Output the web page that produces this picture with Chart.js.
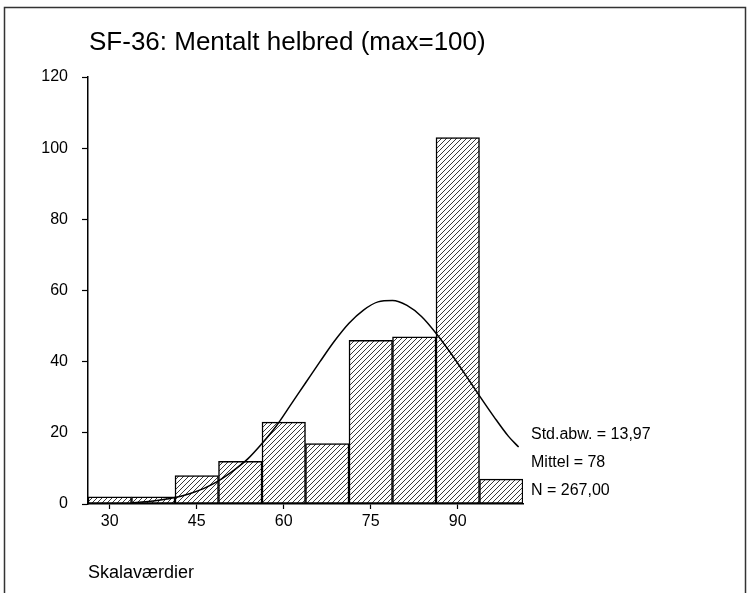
<!DOCTYPE html>
<html lang="da">
<head>
    <meta charset="UTF-8">
    <title>SF-36: Mentalt helbred</title>
    <script src="https://cdn.jsdelivr.net/npm/chart.js"></script>
    <style>
        body { margin: 0; background: #fff; }
        canvas { display: block; }
    </style>
</head>
<body>
    <canvas id="grafico" width="748" height="593"></canvas>
    <script>
        // histogram (bin width 7.5)
        const binCenters = [30, 37.5, 45, 52.5, 60, 67.5, 75, 82.5, 90, 97.5];
        const counts = [2, 2, 8, 12, 23, 17, 46, 47, 103, 7];

        // normal curve
        const curveX = [33.75, 36.25, 38.75, 41.25, 43.75, 46.25, 48.75, 51.25, 53.75, 56.25,
                        58.75, 61.25, 63.75, 66.25, 68.75, 71.25, 73.75, 76.25, 78.75, 81.25,
                        83.75, 86.25, 88.75, 91.25, 93.75, 96.25, 98.75, 100.5];
        const curveY = [0.3, 0.6, 1.1, 1.8, 2.9, 4.4, 6.5, 9.3, 12.6, 17,
                        22, 28, 34, 40, 45.8, 50.8, 54.5, 56.8, 57.2, 55.8,
                        52.7, 48, 42.5, 36.5, 30.4, 24.5, 19, 16];

        const xTicks = [30, 45, 60, 75, 90];
        const yTicks = [0, 20, 40, 60, 80, 100, 120];

        const titulo = 'SF-36: Mentalt helbred (max=100)';
        const ejeX = 'Skalaværdier';
        const estadisticas = ['Std.abw. = 13,97', 'Mittel = 78', 'N = 267,00'];

        const fuente = "'Liberation Sans', Arial, sans-serif";

        // hatch pattern for the bars
        function rayado() {
            const t = document.createElement('canvas');
            t.width = 5; t.height = 5;
            const c = t.getContext('2d');
            c.fillStyle = '#fff';
            c.fillRect(0, 0, 5, 5);
            c.strokeStyle = '#222';
            c.lineWidth = 0.9;
            c.beginPath();
            c.moveTo(0, 5); c.lineTo(5, 0);
            c.moveTo(-1, 1); c.lineTo(1, -1);
            c.moveTo(4, 6); c.lineTo(6, 4);
            c.stroke();
            return c.createPattern(t, 'repeat');
        }

        const extras = {
            id: 'extras',
            beforeDraw(chart) {
                const ctx = chart.ctx;
                ctx.save();
                ctx.fillStyle = '#fff';
                ctx.fillRect(0, 0, chart.width, chart.height);
                ctx.strokeStyle = '#333';
                ctx.lineWidth = 1.5;
                ctx.strokeRect(4.5, 7.5, 741, 640);
                ctx.restore();
            },
            afterDraw(chart) {
                const ctx = chart.ctx;
                const a = chart.chartArea;
                ctx.save();
                ctx.fillStyle = '#000';
                ctx.textBaseline = 'middle';
                ctx.textAlign = 'left';
                ctx.font = '26px ' + fuente;
                ctx.fillText(titulo, 89, 43);
                ctx.font = '16px ' + fuente;
                estadisticas.forEach((t, i) => {
                    ctx.fillText(t, a.right + 8, a.bottom - 69 + i * 28);
                });
                ctx.restore();
            }
        };

        const ctx = document.getElementById('grafico').getContext('2d');
        new Chart(ctx, {
            data: {
                datasets: [{
                    type: 'line',
                    data: curveX.map((x, i) => ({ x: x, y: curveY[i] })),
                    borderColor: '#000',
                    borderWidth: 1.5,
                    pointRadius: 0,
                    fill: false,
                    cubicInterpolationMode: 'monotone',
                    order: 0
                }, {
                    type: 'bar',
                    data: binCenters.map((x, i) => ({ x: x, y: counts[i] })),
                    backgroundColor: rayado(),
                    borderColor: '#000',
                    borderWidth: 1.5,
                    borderSkipped: false,
                    barPercentage: 1,
                    categoryPercentage: 1,
                    order: 1
                }]
            },
            options: {
                responsive: false,
                animation: false,
                layout: { padding: { left: 0, right: 225, top: 77, bottom: 0 } },
                plugins: {
                    legend: { display: false },
                    tooltip: { enabled: false },
                    title: { display: false }
                },
                scales: {
                    x: {
                        type: 'linear',
                        min: 26.25,
                        max: 101.25,
                        offset: false,
                        afterBuildTicks: (s) => { s.ticks = xTicks.map(v => ({ value: v })); },
                        afterFit: (s) => { s.height = 89; },
                        grid: { display: true, offset: false, drawOnChartArea: false, drawTicks: true, tickLength: 5, tickColor: '#000', tickWidth: 1.2 },
                        border: { display: true, color: '#000', width: 1.5 },
                        ticks: { color: '#000', padding: 3, font: { family: fuente, size: 16 }, maxRotation: 0 },
                        title: {
                            display: true, text: ejeX, align: 'start', color: '#000',
                            font: { family: fuente, size: 18 }, padding: { top: 0, bottom: 9 }
                        }
                    },
                    y: {
                        min: 0,
                        max: 120,
                        afterBuildTicks: (s) => { s.ticks = yTicks.map(v => ({ value: v })); },
                        afterFit: (s) => { s.width = 88; },
                        grid: { display: true, drawOnChartArea: false, drawTicks: true, tickLength: 6, tickColor: '#000', tickWidth: 1.2 },
                        border: { display: true, color: '#000', width: 1.5 },
                        ticks: { color: '#000', padding: 14, font: { family: fuente, size: 16 } }
                    }
                }
            },
            plugins: [extras]
        });
    </script>
</body>
</html>
